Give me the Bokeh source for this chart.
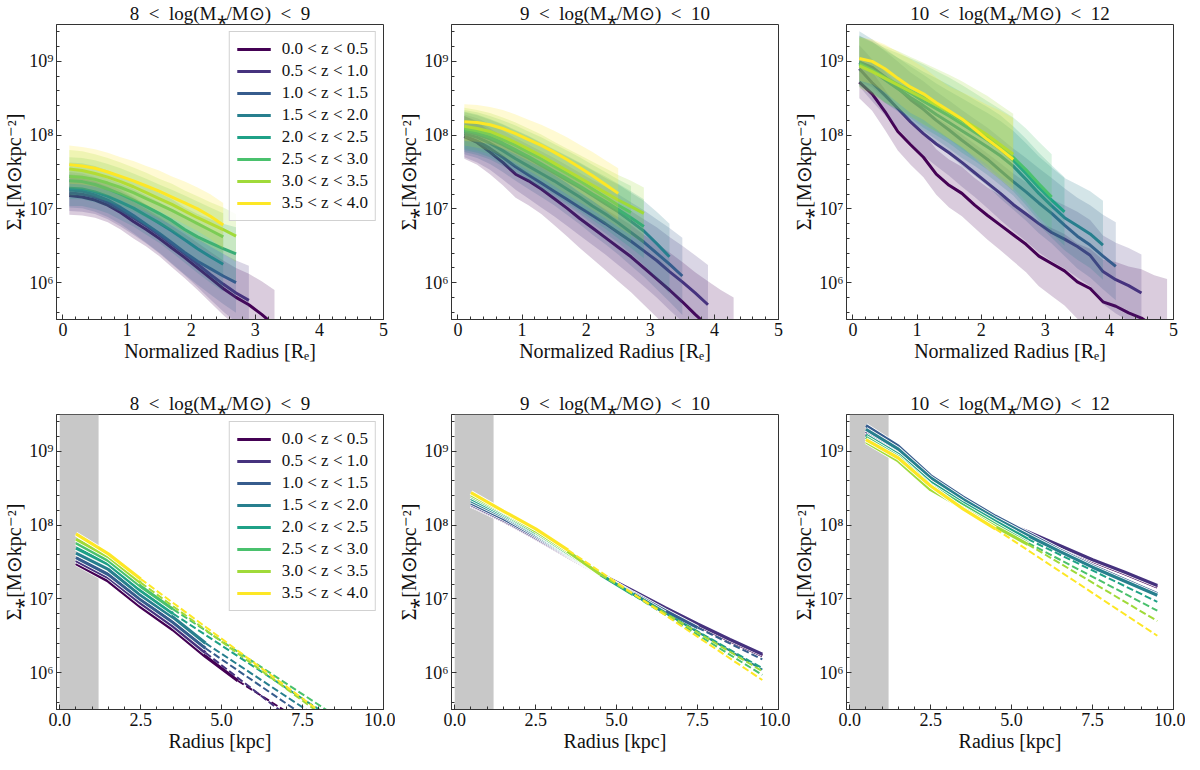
from bokeh.plotting import figure
from bokeh.layouts import gridplot
from bokeh.models import (SingleIntervalTicker, BoxAnnotation, Range1d, PrintfTickFormatter)
from bokeh.embed import file_html
from bokeh.resources import INLINE

FONT = "Liberation Serif"

colors = ["#440154", "#46327E", "#365C8D", "#277F8E", "#1FA187", "#4AC16D", "#A0DA39", "#FDE725"]
z_labels = ["0.0 < z < 0.5", "0.5 < z < 1.0", "1.0 < z < 1.5", "1.5 < z < 2.0",
            "2.0 < z < 2.5", "2.5 < z < 3.0", "3.0 < z < 3.5", "3.5 < z < 4.0"]
mass_titles = ["8\u2002<\u2002log(M\u204e/M\u2299)\u2002<\u20029",
               "9\u2002<\u2002log(M\u204e/M\u2299)\u2002<\u200210",
               "10\u2002<\u2002log(M\u204e/M\u2299)\u2002<\u200212"]
y_tick_labels = {6: "10\u2076", 7: "10\u2077", 8: "10\u2078", 9: "10\u2079"}

# radial grids
r_norm = [0.1, 0.3, 0.5, 0.7, 0.9, 1.1, 1.3, 1.5, 1.7, 1.9, 2.1, 2.3, 2.5,
          2.7, 2.9, 3.1, 3.3, 3.5, 3.7, 3.9, 4.1, 4.3, 4.5, 4.7, 4.9]
r_kpc = [0.5, 1.5, 2.5, 3.5, 4.5, 5.5, 6.5, 7.5, 8.5, 9.5]
psf_kpc = [0.0, 1.2]

# ---- top row: log10 Sigma median vs normalized radius, with band widths (dex)
tl_med = [
    [7.18, 7.16, 7.12, 7.05, 6.95, 6.83, 6.72, 6.60, 6.47, 6.34, 6.20, 6.06, 5.92, 5.80, 5.70, 5.57, 5.42],
    [7.22, 7.20, 7.16, 7.09, 6.99, 6.88, 6.77, 6.65, 6.52, 6.39, 6.25, 6.11, 5.98, 5.86, 5.76],
    [7.26, 7.24, 7.19, 7.12, 7.02, 6.91, 6.79, 6.67, 6.54, 6.41, 6.29, 6.19, 6.09, 6.00],
    [7.28, 7.27, 7.23, 7.17, 7.09, 7.01, 6.91, 6.81, 6.70, 6.58, 6.46, 6.35, 6.25],
    [7.38, 7.37, 7.33, 7.27, 7.20, 7.12, 7.03, 6.94, 6.84, 6.72, 6.62, 6.54, 6.46, 6.39],
    [7.44, 7.43, 7.40, 7.35, 7.29, 7.22, 7.14, 7.06, 6.98, 6.89, 6.80, 6.71, 6.62],
    [7.54, 7.52, 7.48, 7.43, 7.37, 7.30, 7.22, 7.14, 7.06, 6.97, 6.88, 6.80, 6.72, 6.63],
    [7.60, 7.58, 7.55, 7.50, 7.44, 7.38, 7.31, 7.24, 7.16, 7.08, 7.00, 6.90, 6.78],
]
tl_up = [
    [0.25, 0.25, 0.25, 0.25, 0.26, 0.27, 0.28, 0.29, 0.30, 0.32, 0.34, 0.36, 0.38, 0.40, 0.42, 0.45, 0.48],
    [0.25, 0.25, 0.25, 0.25, 0.26, 0.27, 0.28, 0.29, 0.31, 0.33, 0.35, 0.38, 0.41, 0.44, 0.47],
    [0.24, 0.24, 0.24, 0.24, 0.25, 0.26, 0.27, 0.28, 0.30, 0.32, 0.34, 0.36, 0.38, 0.40],
    [0.24, 0.24, 0.24, 0.24, 0.25, 0.26, 0.27, 0.28, 0.29, 0.30, 0.32, 0.34, 0.36],
    [0.25, 0.25, 0.25, 0.25, 0.25, 0.26, 0.27, 0.28, 0.29, 0.30, 0.31, 0.32, 0.34, 0.36],
    [0.26, 0.26, 0.26, 0.26, 0.26, 0.26, 0.27, 0.27, 0.28, 0.29, 0.30, 0.31, 0.32],
    [0.26, 0.26, 0.26, 0.26, 0.26, 0.26, 0.27, 0.27, 0.28, 0.28, 0.29, 0.29, 0.30, 0.30],
    [0.26, 0.26, 0.26, 0.26, 0.26, 0.27, 0.27, 0.28, 0.28, 0.29, 0.29, 0.30, 0.30],
]
tl_dn = [
    [0.26, 0.25, 0.24, 0.23, 0.23, 0.23, 0.23, 0.24, 0.26, 0.28, 0.30, 0.33, 0.36, 0.39, 0.42, 0.45, 0.48],
    [0.25, 0.24, 0.23, 0.23, 0.23, 0.23, 0.24, 0.25, 0.27, 0.29, 0.31, 0.34, 0.37, 0.40, 0.43],
    [0.24, 0.23, 0.23, 0.23, 0.23, 0.24, 0.25, 0.26, 0.28, 0.30, 0.32, 0.35, 0.38, 0.41],
    [0.24, 0.23, 0.23, 0.23, 0.24, 0.25, 0.26, 0.27, 0.29, 0.31, 0.33, 0.35, 0.37],
    [0.25, 0.24, 0.24, 0.24, 0.24, 0.25, 0.26, 0.27, 0.28, 0.29, 0.31, 0.33, 0.35, 0.37],
    [0.26, 0.25, 0.25, 0.25, 0.25, 0.26, 0.26, 0.27, 0.28, 0.29, 0.30, 0.32, 0.34],
    [0.26, 0.25, 0.25, 0.25, 0.25, 0.26, 0.26, 0.27, 0.28, 0.29, 0.30, 0.31, 0.33, 0.35],
    [0.26, 0.25, 0.25, 0.25, 0.25, 0.26, 0.26, 0.27, 0.28, 0.29, 0.30, 0.31, 0.32],
]

tm_med = [
    [7.98, 7.90, 7.77, 7.63, 7.47, 7.38, 7.27, 7.14, 7.01, 6.87, 6.74, 6.61, 6.48, 6.35, 6.20, 6.05, 5.90, 5.74, 5.57, 5.41, 5.25, 5.10],
    [7.99, 7.92, 7.82, 7.70, 7.57, 7.46, 7.35, 7.24, 7.13, 7.02, 6.91, 6.80, 6.68, 6.56, 6.43, 6.30, 6.15, 6.01, 5.86, 5.70],
    [8.02, 7.97, 7.89, 7.79, 7.68, 7.58, 7.48, 7.38, 7.27, 7.16, 7.04, 6.93, 6.81, 6.68, 6.55, 6.40, 6.25, 6.09],
    [8.05, 8.01, 7.95, 7.87, 7.78, 7.69, 7.59, 7.49, 7.39, 7.29, 7.18, 7.07, 6.96, 6.83, 6.70, 6.53, 6.35],
    [8.07, 8.03, 7.97, 7.89, 7.80, 7.71, 7.61, 7.51, 7.41, 7.31, 7.20, 7.10, 6.99, 6.88, 6.76],
    [8.09, 8.06, 8.01, 7.94, 7.86, 7.77, 7.68, 7.58, 7.48, 7.38, 7.27, 7.16, 7.05, 6.95],
    [8.12, 8.09, 8.05, 7.98, 7.90, 7.81, 7.72, 7.62, 7.52, 7.42, 7.32, 7.22, 7.12, 7.03, 6.94],
    [8.18, 8.17, 8.14, 8.09, 8.02, 7.94, 7.86, 7.77, 7.67, 7.56, 7.45, 7.33, 7.21],
]
tm_up = [
    [0.28, 0.28, 0.28, 0.29, 0.30, 0.31, 0.32, 0.33, 0.34, 0.35, 0.37, 0.39, 0.41, 0.43, 0.45, 0.48, 0.51, 0.54, 0.57, 0.61, 0.65, 0.70],
    [0.27, 0.27, 0.27, 0.28, 0.29, 0.30, 0.31, 0.32, 0.33, 0.34, 0.35, 0.37, 0.39, 0.41, 0.43, 0.45, 0.47, 0.49, 0.51, 0.54],
    [0.26, 0.26, 0.26, 0.27, 0.28, 0.29, 0.30, 0.31, 0.32, 0.33, 0.35, 0.37, 0.39, 0.41, 0.43, 0.46, 0.49, 0.52],
    [0.26, 0.26, 0.26, 0.27, 0.28, 0.29, 0.30, 0.31, 0.32, 0.33, 0.34, 0.35, 0.37, 0.39, 0.41, 0.43, 0.45],
    [0.25, 0.25, 0.25, 0.26, 0.27, 0.28, 0.29, 0.30, 0.31, 0.32, 0.33, 0.34, 0.35, 0.36, 0.37],
    [0.25, 0.25, 0.25, 0.26, 0.27, 0.28, 0.29, 0.30, 0.31, 0.32, 0.33, 0.34, 0.35, 0.36],
    [0.25, 0.25, 0.25, 0.26, 0.27, 0.28, 0.29, 0.29, 0.30, 0.31, 0.32, 0.33, 0.34, 0.35, 0.35],
    [0.24, 0.24, 0.24, 0.25, 0.26, 0.27, 0.28, 0.29, 0.30, 0.31, 0.32, 0.33, 0.34],
]
tm_dn = [
    [0.30, 0.30, 0.30, 0.31, 0.32, 0.33, 0.34, 0.36, 0.38, 0.40, 0.42, 0.44, 0.46, 0.48, 0.50, 0.52, 0.54, 0.56, 0.58, 0.60, 0.62, 0.64],
    [0.29, 0.29, 0.29, 0.30, 0.31, 0.32, 0.33, 0.34, 0.36, 0.38, 0.40, 0.42, 0.44, 0.46, 0.48, 0.50, 0.52, 0.54, 0.56, 0.58],
    [0.28, 0.28, 0.28, 0.29, 0.30, 0.31, 0.32, 0.33, 0.35, 0.37, 0.39, 0.41, 0.43, 0.45, 0.47, 0.49, 0.51, 0.53],
    [0.28, 0.28, 0.28, 0.29, 0.30, 0.31, 0.32, 0.33, 0.34, 0.36, 0.38, 0.40, 0.42, 0.44, 0.46, 0.48, 0.50],
    [0.27, 0.27, 0.27, 0.28, 0.29, 0.30, 0.31, 0.32, 0.33, 0.34, 0.35, 0.37, 0.39, 0.41, 0.43],
    [0.27, 0.27, 0.27, 0.28, 0.29, 0.30, 0.31, 0.32, 0.33, 0.34, 0.35, 0.37, 0.39, 0.41],
    [0.26, 0.26, 0.26, 0.27, 0.28, 0.29, 0.30, 0.31, 0.32, 0.33, 0.34, 0.35, 0.37, 0.39, 0.41],
    [0.26, 0.26, 0.26, 0.27, 0.28, 0.29, 0.30, 0.31, 0.32, 0.33, 0.34, 0.35, 0.36],
]

tr_med = [
    [8.72, 8.56, 8.32, 8.05, 7.87, 7.70, 7.47, 7.32, 7.21, 7.05, 6.91, 6.78, 6.65, 6.52, 6.36, 6.26, 6.16, 6.01, 5.92, 5.74, 5.68, 5.59, 5.52, 5.40, 5.30],
    [8.90, 8.71, 8.54, 8.36, 8.18, 8.02, 7.88, 7.76, 7.63, 7.49, 7.35, 7.21, 7.06, 6.93, 6.80, 6.68, 6.59, 6.49, 6.37, 6.15, 6.04, 5.96, 5.86],
    [8.99, 8.92, 8.79, 8.64, 8.48, 8.35, 8.20, 8.07, 7.93, 7.80, 7.67, 7.52, 7.37, 7.23, 7.08, 6.94, 6.78, 6.63, 6.51, 6.36, 6.22],
    [8.99, 8.88, 8.75, 8.63, 8.51, 8.40, 8.28, 8.17, 8.06, 7.95, 7.84, 7.72, 7.58, 7.40, 7.21, 7.04, 6.88, 6.77, 6.66, 6.51],
    [8.97, 8.88, 8.77, 8.67, 8.57, 8.46, 8.36, 8.26, 8.15, 8.04, 7.93, 7.81, 7.66, 7.48, 7.29, 7.12, 6.96],
    [8.96, 8.88, 8.78, 8.69, 8.60, 8.51, 8.41, 8.31, 8.20, 8.08, 7.96, 7.83, 7.70, 7.53, 7.34, 7.16],
    [8.94, 8.86, 8.77, 8.68, 8.59, 8.50, 8.41, 8.32, 8.22, 8.11, 8.00, 7.87, 7.74],
    [9.04, 9.00, 8.90, 8.77, 8.65, 8.56, 8.44, 8.33, 8.22, 8.08, 7.94, 7.81, 7.67],
]
tr_up = [
    [0.30, 0.30, 0.30, 0.31, 0.32, 0.33, 0.34, 0.35, 0.36, 0.37, 0.38, 0.40, 0.42, 0.44, 0.46, 0.48, 0.50, 0.52, 0.54, 0.57, 0.60, 0.63, 0.66, 0.70, 0.75],
    [0.32, 0.32, 0.32, 0.33, 0.34, 0.35, 0.36, 0.37, 0.38, 0.39, 0.40, 0.41, 0.42, 0.43, 0.44, 0.45, 0.46, 0.47, 0.48, 0.49, 0.50, 0.51, 0.52],
    [0.35, 0.35, 0.35, 0.36, 0.37, 0.38, 0.39, 0.40, 0.41, 0.42, 0.43, 0.44, 0.45, 0.46, 0.47, 0.48, 0.50, 0.52, 0.54, 0.56, 0.60],
    [0.42, 0.42, 0.42, 0.42, 0.42, 0.42, 0.42, 0.43, 0.44, 0.45, 0.46, 0.47, 0.48, 0.49, 0.50, 0.52, 0.54, 0.56, 0.58, 0.60],
    [0.38, 0.38, 0.38, 0.38, 0.39, 0.40, 0.41, 0.42, 0.43, 0.44, 0.45, 0.46, 0.46, 0.47, 0.47, 0.47, 0.47],
    [0.36, 0.38, 0.40, 0.42, 0.44, 0.45, 0.46, 0.47, 0.48, 0.49, 0.50, 0.52, 0.54, 0.56, 0.57, 0.58],
    [0.40, 0.42, 0.44, 0.46, 0.47, 0.48, 0.49, 0.50, 0.51, 0.52, 0.53, 0.54, 0.55],
    [0.28, 0.30, 0.33, 0.36, 0.38, 0.36, 0.34, 0.33, 0.36, 0.42, 0.47, 0.52, 0.56],
]
tr_dn = [
    [0.22, 0.23, 0.25, 0.26, 0.27, 0.27, 0.28, 0.30, 0.31, 0.31, 0.33, 0.34, 0.36, 0.38, 0.41, 0.44, 0.47, 0.50, 0.53, 0.56, 0.59, 0.62, 0.65, 0.68, 0.70],
    [0.24, 0.25, 0.27, 0.27, 0.28, 0.30, 0.30, 0.31, 0.33, 0.33, 0.34, 0.36, 0.36, 0.37, 0.39, 0.39, 0.40, 0.42, 0.42, 0.44, 0.46, 0.48, 0.50],
    [0.26, 0.27, 0.29, 0.29, 0.30, 0.32, 0.32, 0.33, 0.35, 0.35, 0.36, 0.38, 0.38, 0.39, 0.41, 0.41, 0.42, 0.44, 0.44, 0.45, 0.46],
    [0.28, 0.29, 0.31, 0.31, 0.32, 0.34, 0.34, 0.35, 0.37, 0.37, 0.38, 0.40, 0.40, 0.41, 0.43, 0.43, 0.44, 0.46, 0.46, 0.47],
    [0.30, 0.31, 0.33, 0.33, 0.34, 0.36, 0.36, 0.37, 0.39, 0.39, 0.40, 0.42, 0.42, 0.43, 0.45, 0.45, 0.46],
    [0.30, 0.31, 0.33, 0.33, 0.34, 0.36, 0.36, 0.37, 0.39, 0.39, 0.40, 0.42, 0.42, 0.43, 0.45, 0.45],
    [0.30, 0.31, 0.33, 0.33, 0.34, 0.36, 0.36, 0.37, 0.39, 0.39, 0.40, 0.42, 0.42],
    [0.30, 0.31, 0.32, 0.33, 0.35, 0.35, 0.36, 0.38, 0.38, 0.39, 0.41, 0.41, 0.42],
]

# ---- bottom row: log10 Sigma vs physical radius (solid = measured, dashed = extrapolated to 9.5 kpc)
bl_solid = [
    [7.48, 7.24, 6.89, 6.58, 6.22, 5.89],
    [7.52, 7.29, 6.94, 6.63, 6.27],
    [7.56, 7.33, 6.99, 6.68, 6.33],
    [7.62, 7.40, 7.05, 6.75, 6.40],
    [7.69, 7.47, 7.11, 6.80],
    [7.76, 7.52, 7.17, 6.86],
    [7.81, 7.57, 7.22],
    [7.88, 7.61, 7.27],
]
bl_dash_end = [4.77, 4.57, 4.83, 4.95, 5.07, 5.13, 4.98, 5.00]

bm_solid = [
    [8.27, 8.06, 7.82, 7.57, 7.33, 7.09, 6.86, 6.64, 6.43, 6.23],
    [8.28, 8.07, 7.83, 7.58, 7.34, 7.11, 6.88, 6.66, 6.45, 6.25],
    [8.30, 8.09, 7.85, 7.59, 7.33, 7.08, 6.84, 6.61],
    [8.33, 8.12, 7.87, 7.60, 7.33, 7.07, 6.81],
    [8.36, 8.14, 7.89, 7.61, 7.33, 7.06],
    [8.39, 8.16, 7.90, 7.62, 7.33],
    [8.41, 8.18, 7.92, 7.64, 7.33],
    [8.44, 8.19, 7.95, 7.66],
]
bm_dash_end = [None, None, 6.18, 6.04, 6.06, 5.97, 6.02, 5.90]

br_solid = [
    [9.23, 8.98, 8.62, 8.33, 8.08, 7.90, 7.70, 7.51, 7.34, 7.16],
    [9.27, 9.00, 8.63, 8.34, 8.09, 7.91, 7.72, 7.53, 7.36, 7.18],
    [9.35, 9.07, 8.67, 8.38, 8.12, 7.89, 7.66, 7.45, 7.26, 7.07],
    [9.30, 9.03, 8.64, 8.35, 8.09, 7.86, 7.64, 7.43, 7.24, 7.05],
    [9.22, 8.96, 8.58, 8.30, 8.05, 7.81],
    [9.19, 8.93, 8.54, 8.27, 8.01, 7.76],
    [9.13, 8.87, 8.48, 8.23, 7.98, 7.74],
    [9.16, 8.91, 8.53, 8.22, 7.95],
]
br_dash_end = [None, None, None, None, 6.96, 6.84, 6.70, 6.50]

AX = "#333333"


def style_axis(ax):
    ax.axis_line_color = AX
    ax.major_tick_line_color = AX
    ax.minor_tick_line_color = AX
    ax.major_tick_in = 5
    ax.major_tick_out = 0
    ax.minor_tick_in = 3
    ax.minor_tick_out = 0
    ax.major_label_text_font = FONT
    ax.major_label_text_font_size = "18px"
    ax.major_label_text_color = "#111111"
    ax.major_label_standoff = 3
    ax.axis_label_text_font = FONT
    ax.axis_label_text_font_style = "normal"
    ax.axis_label_text_font_size = "20px"
    ax.axis_label_text_color = "#111111"
    ax.axis_label_standoff = 1


def make_fig(title, top):
    if top:
        xr, xint, xlabel = (-0.1, 5.0), 1, "Normalized Radius [R\u2091]"
    else:
        xr, xint, xlabel = (-0.1, 10.0), 2.5, "Radius [kpc]"
    p = figure(frame_width=327, frame_height=295,
               x_range=Range1d(*xr), y_range=Range1d(5.5, 9.5),
               output_backend="svg", toolbar_location=None, tools="",
               min_border_left=53, min_border_right=12,
               min_border_top=22 if top else 48,
               min_border_bottom=47)
    p.title.text = title
    p.title.align = "center"
    p.title.text_font = FONT
    p.title.text_font_size = "19px"
    p.title.text_font_style = "normal"
    p.title.text_color = "#111111"
    p.title.standoff = 1
    p.xgrid.visible = False
    p.ygrid.visible = False
    p.outline_line_color = AX
    p.outline_line_width = 1
    p.background_fill_color = "white"
    p.border_fill_color = "white"

    xax = p.xaxis[0]
    yax = p.yaxis[0]
    xax.ticker = SingleIntervalTicker(interval=xint, num_minor_ticks=5)
    yax.ticker = SingleIntervalTicker(interval=1, num_minor_ticks=5)
    xax.axis_label = xlabel
    yax.axis_label = "\u03a3\u204e[M\u2299kpc\u207b\u00b2]"
    yax.major_label_overrides = y_tick_labels
    if not top:
        xax.formatter = PrintfTickFormatter(format="%.1f")
    style_axis(xax)
    style_axis(yax)
    return p


def style_legend(p):
    lg = p.legend[0]
    lg.location = "top_right"
    lg.label_text_font = FONT
    lg.label_text_font_size = "17px"
    lg.label_text_color = "#111111"
    lg.glyph_width = 34
    lg.glyph_height = 20
    lg.label_height = 20
    lg.spacing = 2
    lg.padding = 7
    lg.margin = 7
    lg.label_standoff = 11
    lg.border_line_color = "#cccccc"
    lg.border_line_alpha = 0.9
    lg.background_fill_alpha = 0.85


def top_panel(title, med, up, dn, legend):
    p = make_fig(title, True)
    for i in range(8):
        xs = r_norm[:len(med[i])]
        hi = [m + u for m, u in zip(med[i], up[i])]
        lo = [m - d for m, d in zip(med[i], dn[i])]
        p.varea(x=xs, y1=lo, y2=hi, fill_color=colors[i], fill_alpha=0.2)
        kw = {"legend_label": z_labels[i]} if legend else {}
        p.line(xs, med[i], line_color=colors[i], line_width=3, **kw)
    if legend:
        style_legend(p)
    return p


def bottom_panel(title, solid, dash_end, legend):
    p = make_fig(title, False)
    p.add_layout(BoxAnnotation(left=psf_kpc[0], right=psf_kpc[1], fill_color="#c8c8c8",
                               fill_alpha=1.0, line_alpha=0, level="underlay"))
    for i in range(8):
        xs = r_kpc[:len(solid[i])]
        p.line(xs, solid[i], line_color="white", line_width=4.8)
        kw = {"legend_label": z_labels[i]} if legend else {}
        p.line(xs, solid[i], line_color=colors[i], line_width=3.2, **kw)
        if dash_end[i] is not None:
            p.line([xs[-1], r_kpc[-1]], [solid[i][-1], dash_end[i]], line_color=colors[i],
                   line_width=2, line_dash="7 3")
    if legend:
        style_legend(p)
    return p


p1 = top_panel(mass_titles[0], tl_med, tl_up, tl_dn, True)
p2 = top_panel(mass_titles[1], tm_med, tm_up, tm_dn, False)
p3 = top_panel(mass_titles[2], tr_med, tr_up, tr_dn, False)
p4 = bottom_panel(mass_titles[0], bl_solid, bl_dash_end, True)
p5 = bottom_panel(mass_titles[1], bm_solid, bm_dash_end, False)
p6 = bottom_panel(mass_titles[2], br_solid, br_dash_end, False)

grid = gridplot([[p1, p2, p3], [p4, p5, p6]], toolbar_location=None)
open("out.html", "w").write(file_html(grid, INLINE))
